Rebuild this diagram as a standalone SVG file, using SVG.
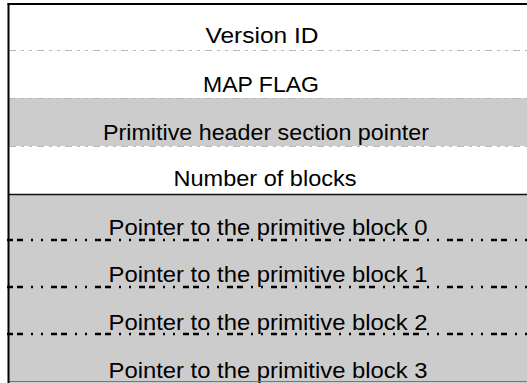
<svg xmlns="http://www.w3.org/2000/svg" width="527" height="383" viewBox="0 0 527 383">
<style>
.t{font-family:"Liberation Sans",Arial,sans-serif;font-size:21.5px;fill:#000;text-anchor:middle}
.g{fill:#cccccc}
.w{fill:#ffffff}
.lt{stroke:#b8b8b8;stroke-width:1;stroke-dasharray:7,5,3,5,3,5;fill:none}
.dk{stroke:#000;stroke-width:2.5;stroke-dasharray:6,4,6,8,2,8,2,8;fill:none}
</style>
<rect x="0" y="0" width="527" height="383" fill="#fff"/>
<g id="version-id"><rect class="w" x="8" y="4" width="519" height="46"/><text class="t" x="262" y="43" textLength="113" lengthAdjust="spacingAndGlyphs">Version ID</text></g>
<g id="map-flag"><rect class="w" x="8" y="50" width="519" height="48"/><text class="t" x="261" y="92" textLength="116" lengthAdjust="spacingAndGlyphs">MAP FLAG</text></g>
<g id="primitive-header"><rect class="g" x="8" y="98" width="519" height="48"/><text class="t" x="266" y="140" textLength="326" lengthAdjust="spacingAndGlyphs">Primitive header section pointer</text></g>
<g id="number-of-blocks"><rect class="w" x="8" y="146" width="519" height="48"/><text class="t" x="265" y="186" textLength="183" lengthAdjust="spacingAndGlyphs">Number of blocks</text></g>
<g id="block0"><rect class="g" x="8" y="194" width="519" height="46"/><text class="t" x="268" y="235" textLength="319" lengthAdjust="spacingAndGlyphs">Pointer to the primitive block 0</text></g>
<g id="block1"><rect class="g" x="8" y="240" width="519" height="47"/><text class="t" x="268" y="282" textLength="319" lengthAdjust="spacingAndGlyphs">Pointer to the primitive block 1</text></g>
<g id="block2"><rect class="g" x="8" y="287" width="519" height="47"/><text class="t" x="268" y="330" textLength="319" lengthAdjust="spacingAndGlyphs">Pointer to the primitive block 2</text></g>
<g id="block3"><rect class="g" x="8" y="334" width="519" height="49"/><text class="t" x="268" y="378" textLength="319" lengthAdjust="spacingAndGlyphs">Pointer to the primitive block 3</text></g>
<g id="connectors">
<line class="lt" x1="9" y1="50.5" x2="527" y2="50.5"/>
<line class="lt" x1="9" y1="98.5" x2="527" y2="98.5"/>
<line class="lt" x1="9" y1="146.5" x2="527" y2="146.5"/>
<line x1="9" y1="194.5" x2="527" y2="194.5" stroke="#111" stroke-width="1.5"/>
<line class="dk" x1="7" y1="240" x2="527" y2="240"/>
<line class="dk" x1="7" y1="287" x2="527" y2="287"/>
<line class="dk" x1="7" y1="334" x2="527" y2="334"/>
<line x1="9" y1="381.5" x2="527" y2="381.5" stroke="#777" stroke-width="1"/>
<line x1="8.5" y1="3" x2="8.5" y2="383" stroke="#000" stroke-width="2"/>
<line x1="7.5" y1="4" x2="527" y2="4" stroke="#000" stroke-width="2"/>
</g>
</svg>
